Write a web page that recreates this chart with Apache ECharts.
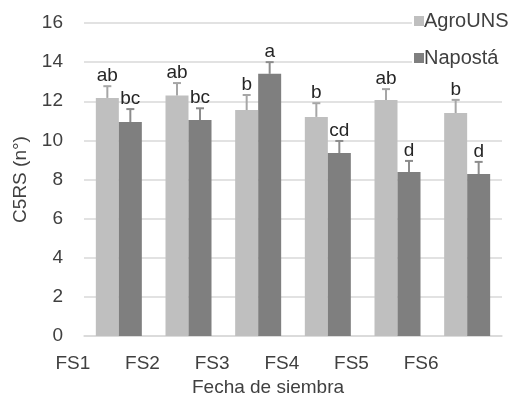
<!DOCTYPE html>
<html>
<head>
<meta charset="utf-8">
<script src="https://cdn.jsdelivr.net/npm/echarts@6/dist/echarts.min.js"></script>
<style>
  html, body { margin: 0; padding: 0; background: #fff; }
  #chart { width: 524px; height: 400px; }
</style>
</head>
<body>
<div id="chart"></div>
<script>
// sowing dates
var categories = ["FS1", "FS2", "FS3", "FS4", "FS5", "FS6"];
var seriesNames = ["AgroUNS", "Napostá"];

// C5RS means
var agroVals = [12.17, 12.3, 11.55, 11.2, 12.07, 11.4];
var napoVals = [10.94, 11.04, 13.4, 9.35, 8.38, 8.28];

// standard error (upper bar only)
var agroErr = [0.6, 0.63, 0.77, 0.7, 0.55, 0.67];
var napoErr = [0.66, 0.6, 0.6, 0.62, 0.57, 0.62];

// significance letters
var agroLetters = ["ab", "ab", "b", "b", "ab", "b"];
var napoLetters = ["bc", "bc", "a", "cd", "d", "d"];

var yTicks = { min: 0, max: 16, interval: 2 };

var BAR_W = 23;
var LIGHT = "#bfbfbf";
var DARK = "#7f7f7f";
var TXT = "#404040";
var FS = 19;

var chart = echarts.init(document.getElementById("chart"));

var errSeries = function (name, vals, errs, letters, shift, color) {
    return {
        name: name + "_err",
        type: "custom",
        z: 5,
        data: vals.map(function (v, i) { return [i, v, v + errs[i]]; }),
        renderItem: function (params, api) {
            var base = api.coord([api.value(0), api.value(1)]);
            var top = api.coord([api.value(0), api.value(2)]);
            var x = base[0] + shift;
            var cap = 4;
            return {
                type: "group",
                children: [
                    {
                        type: "line",
                        shape: { x1: x, y1: base[1], x2: x, y2: top[1] },
                        style: { stroke: color, lineWidth: 2 }
                    },
                    {
                        type: "line",
                        shape: { x1: x - cap, y1: top[1], x2: x + cap, y2: top[1] },
                        style: { stroke: color, lineWidth: 2 }
                    },
                    {
                        type: "text",
                        style: {
                            text: letters[params.dataIndex],
                            x: x,
                            y: top[1] - 1,
                            align: "center",
                            verticalAlign: "bottom",
                            fill: "#262626",
                            font: FS + "px 'Liberation Sans', Arial, sans-serif"
                        }
                    }
                ]
            };
        }
    };
};

var option = {
    animation: false,
    backgroundColor: "#fff",
    textStyle: { fontFamily: "'Liberation Sans', Arial, sans-serif" },
    grid: { left: 84, right: 22, top: 23, bottom: 64, outerBoundsMode: "none" },
    legend: {
        orient: "vertical",
        left: 412,
        top: 9,
        itemWidth: 10,
        itemHeight: 10,
        itemGap: 17,
        backgroundColor: "#fff",
        padding: [2, 6, 2, 2],
        data: seriesNames.map(function (n) { return { name: n, icon: "rect" }; }),
        textStyle: { fontSize: 20, color: TXT, padding: [0, 0, 0, -5] }
    },
    xAxis: {
        type: "category",
        data: categories,
        axisTick: { show: false },
        axisLine: { lineStyle: { color: "#d9d9d9", width: 1.5 } },
        axisLabel: {
            fontSize: FS,
            color: TXT,
            margin: 18,
            padding: [0, 92, 0, 0]
        },
        name: "Fecha de siembra",
        nameLocation: "middle",
        nameGap: 37,
        nameTextStyle: { fontSize: FS, color: TXT, padding: [0, 50, 0, 0] }
    },
    yAxis: {
        type: "value",
        min: yTicks.min,
        max: yTicks.max,
        interval: yTicks.interval,
        axisLine: { show: false },
        axisTick: { show: false },
        splitLine: { lineStyle: { color: "#d9d9d9", width: 1.5 } },
        axisLabel: { fontSize: FS, color: TXT, margin: 21 },
        name: "C5RS (n°)",
        nameLocation: "middle",
        nameGap: 54,
        nameTextStyle: { fontSize: FS, color: TXT }
    },
    series: [
        {
            name: seriesNames[0],
            type: "bar",
            data: agroVals,
            barWidth: BAR_W,
            barGap: "0%",
            itemStyle: { color: LIGHT }
        },
        {
            name: seriesNames[1],
            type: "bar",
            data: napoVals,
            barWidth: BAR_W,
            barGap: "0%",
            itemStyle: { color: DARK }
        },
        errSeries(seriesNames[0], agroVals, agroErr, agroLetters, -BAR_W / 2, "#a6a6a6"),
        errSeries(seriesNames[1], napoVals, napoErr, napoLetters, BAR_W / 2, "#8c8c8c")
    ]
};

chart.setOption(option);
</script>
</body>
</html>
